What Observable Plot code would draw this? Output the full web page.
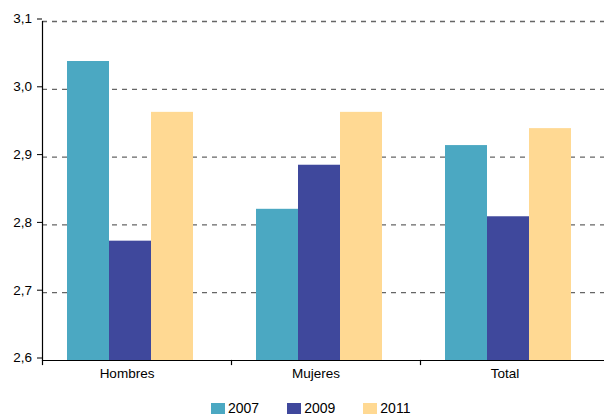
<!DOCTYPE html>
<html><head><meta charset="utf-8">
<script src="https://cdn.jsdelivr.net/npm/d3@7"></script>
<script src="https://cdn.jsdelivr.net/npm/@observablehq/plot@0.6"></script>
<style>
body{margin:0;background:#fff;font-family:"Liberation Sans",Arial,sans-serif;overflow:hidden;}
#chart{width:604px;}
#chart svg.plot{display:block;}
.lg-swatches{justify-content:flex-start !important;margin:8px 0 0 211px !important;font-family:"Liberation Sans",Arial,sans-serif !important;font-size:14px !important;color:#000;min-height:16px !important;height:16px;line-height:16px;}
.lg-swatch{margin-right:28px !important;}
.lg-swatch svg{margin-right:3px !important;}
</style></head><body><div id="chart"></div><script>
const categories = ["Hombres", "Mujeres", "Total"];
const years = ["2007", "2009", "2011"];
const v2007 = [3.041, 2.823, 2.917];
const v2009 = [2.776, 2.888, 2.812];
const v2011 = [2.966, 2.966, 2.942];
const yTicks = [2.6, 2.7, 2.8, 2.9, 3.0, 3.1];
const gridTicks = [2.7, 2.8, 2.9, 3.0, 3.1];
const colors = ["#4ba8c2", "#3f489c", "#ffd993"];

const series = [v2007, v2009, v2011];
const data = categories.flatMap((c, i) => years.map((y, j) => ({cat: c, year: y, value: series[j][i]})));
const fmt = d => d.toFixed(1).replace(".", ",");

const plot = Plot.plot({
  width: 604, height: 392,
  marginTop: 21, marginBottom: 32, marginLeft: 41, marginRight: -5,
  style: {fontFamily: "'Liberation Sans', Arial, sans-serif", fontSize: "13.5px", color: "#000", background: "#fff", overflow: "visible"},
  fx: {domain: categories, padding: 0, label: null},
  x: {domain: years, paddingInner: 0, paddingOuter: 0.72, align: 0.4, axis: null},
  y: {domain: [2.6, 3.1], axis: null},
  color: {domain: years, range: colors},
  marks: [
    Plot.gridY(gridTicks, {stroke: "#666", strokeOpacity: 1, strokeDasharray: "5,5", strokeWidth: 1.3}),
    Plot.barY(data, {fx: "cat", x: "year", y1: 2.6, y2: "value", fill: "year"}),
    Plot.ruleY([2.6], {stroke: "#000", strokeWidth: 1.2}),
    Plot.frame({anchor: "left", facetAnchor: "left", stroke: "#000", strokeWidth: 1.2}),
    Plot.frame({anchor: "left", insetTop: 339, insetBottom: -4, stroke: "#000", strokeWidth: 1.2}),
    Plot.axisY(yTicks, {anchor: "left", tickSize: 5, tickPadding: 5.5, dy: -2.5, tickFormat: fmt, stroke: "#000", label: null}),
    Plot.axisFx({anchor: "bottom", tickSize: 0, tickPadding: 8, dx: -10, label: null})
  ]
});
document.getElementById("chart").appendChild(plot);
const leg = plot.legend("color", {className: "lg", swatchWidth: 14, swatchHeight: 11});
document.getElementById("chart").appendChild(leg);
</script></body></html>
